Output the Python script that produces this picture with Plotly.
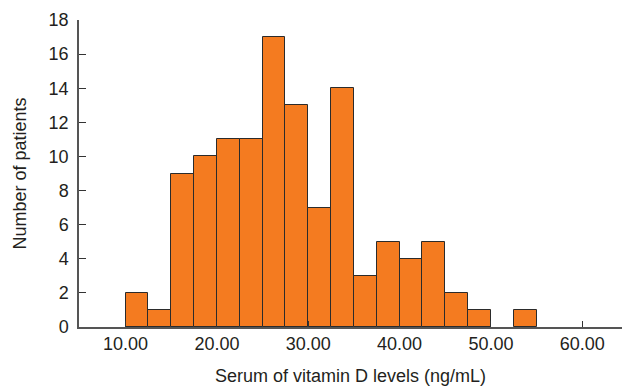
import plotly.graph_objects as go

# Histogram data: bin left edges (ng/mL) and counts
bin_starts = [10.0, 12.5, 15.0, 17.5, 20.0, 22.5, 25.0, 27.5, 30.0, 32.5,
              35.0, 37.5, 40.0, 42.5, 45.0, 47.5, 50.0, 52.5]
counts = [2, 1, 9, 10, 11, 11, 17, 13, 7, 14, 3, 5, 4, 5, 2, 1, 0, 1]
bin_width = 2.5

x_tick_vals = [10, 20, 30, 40, 50, 60]
x_tick_text = ["10.00", "20.00", "30.00", "40.00", "50.00", "60.00"]
y_tick_vals = [0, 2, 4, 6, 8, 10, 12, 14, 16, 18]

x_title = "Serum of vitamin D levels (ng/mL)"
y_title = "Number of patients"

narrow = "Liberation Sans Narrow, Arial Narrow, Liberation Sans, Arial, sans-serif"
regular = "Liberation Sans, Arial, sans-serif"
text_col = "#231f20"

fig = go.Figure(
    go.Bar(
        x=bin_starts,
        y=counts,
        width=bin_width,
        offset=0,
        marker=dict(
            color="#f47b20",
            line=dict(color="#2b2b2b", width=[1 if c > 0 else 0 for c in counts]),
        ),
        hoverinfo="x+y",
    )
)

fig.update_layout(
    width=622,
    height=386,
    margin=dict(l=79, r=0, t=20, b=59),
    plot_bgcolor="white",
    paper_bgcolor="white",
    showlegend=False,
    bargap=0,
    xaxis=dict(
        range=[4.9, 64.35],
        tickvals=x_tick_vals,
        ticktext=x_tick_text,
        ticks="inside",
        ticklen=6,
        tickwidth=1,
        tickcolor="#333333",
        showline=True,
        linecolor="#555555",
        linewidth=1.5,
        showgrid=False,
        zeroline=False,
        tickfont=dict(family=narrow, size=18, color=text_col),
        title=dict(text=x_title, font=dict(family=narrow, size=18, color=text_col), standoff=16),
        automargin=False,
    ),
    yaxis=dict(
        range=[0, 18],
        tickvals=y_tick_vals,
        ticks="inside",
        ticklen=7,
        tickwidth=1,
        tickcolor="#333333",
        showline=True,
        linecolor="#555555",
        linewidth=1.5,
        showgrid=False,
        zeroline=False,
        ticklabelstandoff=5,
        tickfont=dict(family=narrow, size=18, color=text_col),
        title=dict(text=y_title, font=dict(family=regular, size=18, color=text_col), standoff=17),
        automargin=False,
    ),
)

fig.write_html(
    "out.html",
    config={"displayModeBar": False},
    post_script="document.body.style.margin='0';",
)
